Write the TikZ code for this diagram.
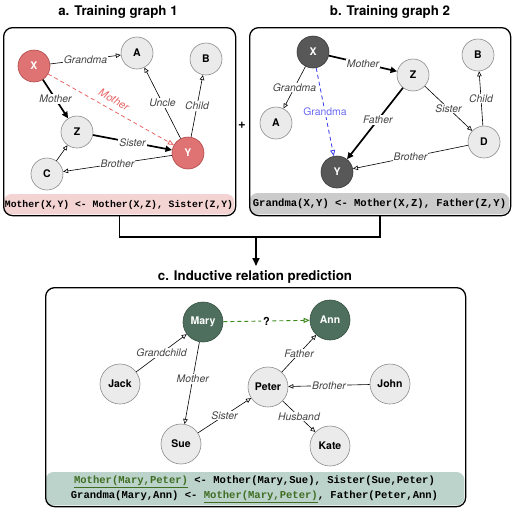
\documentclass[tikz,border=0pt]{standalone}
\usepackage{fontspec}
\setmainfont{TeX Gyre Heros}
\newfontfamily\rulemono{Liberation Mono}
\usetikzlibrary{arrows.meta}
\definecolor{nfill}{HTML}{EBEBEB}
\definecolor{ncirc}{HTML}{8C8C8C}
\definecolor{rfill}{HTML}{DF7272}
\definecolor{rdraw}{HTML}{B04A4A}
\definecolor{dfill}{HTML}{585858}
\definecolor{ddraw}{HTML}{3A3A3A}
\definecolor{gfill}{HTML}{4F6F5E}
\definecolor{gdraw}{HTML}{34503F}
\definecolor{pinkbar}{HTML}{F4D3D3}
\definecolor{graybar}{HTML}{CBCBCB}
\definecolor{greenbar}{HTML}{BCD3CB}
\definecolor{redline}{HTML}{E86565}
\definecolor{blueline}{HTML}{3B3BEE}
\definecolor{bluelab}{HTML}{6A6AF5}
\definecolor{greenline}{HTML}{3A8A1A}
\definecolor{ug}{HTML}{3F6E22}
\definecolor{labgray}{HTML}{444444}
\begin{document}
\begin{tikzpicture}[x=1pt,y=-1pt,
  lnode/.style={circle,draw=ncirc,fill=nfill,line width=0.6pt,minimum size=32pt,inner sep=0pt,font=\bfseries\fontsize{10.5}{12}\selectfont},
  rnode/.style={lnode,draw=rdraw,fill=rfill,text=white},
  dnode/.style={lnode,draw=ddraw,fill=dfill,text=white},
  cnode/.style={lnode,minimum size=40pt},
  gnode/.style={cnode,draw=gdraw,fill=gfill,text=white},
  elab/.style={fill=white,inner sep=1pt,text=labgray,font=\itshape\fontsize{10.4}{12}\selectfont},
  thin/.style={line width=0.6pt,-{Triangle[open,length=5pt,width=4.5pt]}},
  thick/.style={line width=1.7pt,-{Triangle[length=6.5pt,width=6pt]}},
  panel/.style={draw,line width=1.3pt,rounded corners=9pt,inner sep=0pt,anchor=north west},
  ttl/.style={font=\bfseries\fontsize{13.3}{16}\selectfont},
  rulea/.style={font=\rulemono\bfseries\fontsize{9.75}{14}\selectfont,align=center},
  ruleb/.style={font=\rulemono\bfseries\fontsize{10.55}{15}\selectfont,align=center},
]
\useasboundingbox (0,0) rectangle (512,509);

% titles
\node[ttl] (ta) at (118,12) {a. Training graph 1};
\node[ttl] (tb) at (390,12) {b. Training graph 2};
\node[ttl] (tc) at (255,277) {c. Inductive relation prediction};

% bars
\fill[pinkbar, rounded corners=8pt] (3.6,194) rectangle (234.4,214.4);
\fill[graybar, rounded corners=8pt] (249.6,193) rectangle (509.4,214.4);
\fill[greenbar, rounded corners=8pt] (45.6,472) rectangle (464.4,505.4);

% panels
\node[panel, minimum width=232pt, minimum height=188pt] (pa) at (3,27) {};
\node[panel, minimum width=261pt, minimum height=188pt] (pb) at (249,27) {};
\node[panel, minimum width=420pt, minimum height=219pt] (pc) at (45,287) {};

% rules
\node[rulea] (ra) at (119,204.5) {Mother(X,Y) <- Mother(X,Z), Sister(Z,Y)};
\node[ruleb] (rb) at (379.5,204) {Grandma(X,Y) <- Mother(X,Z), Father(Z,Y)};
\node[ruleb] (rc) at (254.5,489.5) {\textcolor{ug}{\underline{Mother(Mary,Peter)}} <- Mother(Mary,Sue), Sister(Sue,Peter)\\Grandma(Mary,Ann) <- \textcolor{ug}{\underline{Mother(Mary,Peter)}}, Father(Peter,Ann)};

% plus
\node[font=\bfseries\fontsize{13}{15}\selectfont] (plus) at (242,125) {+};

% connector
\coordinate (jn) at (256,237);
\coordinate (tip) at (256,266);
\draw[line width=1.6pt] (pa.south) -- (pa.south |- jn) -- (pb.south |- jn) -- (pb.south);
\draw[line width=1.6pt,-{Triangle[length=8pt,width=7pt]}] (jn) -- (tip);

% graph a
\node[rnode] (aX) at (34,66) {X};
\node[lnode] (aA) at (137,53) {A};
\node[lnode] (aB) at (206,59) {B};
\node[lnode] (aZ) at (77,132) {Z};
\node[rnode] (aY) at (188,153) {Y};
\node[lnode] (aC) at (47,174) {C};
\draw[thin] (aX) -- node[elab]{Grandma} (aA);
\draw[thick] (aX) -- node[elab]{Mother} (aZ);
\draw[redline, line width=0.8pt, dash pattern=on 4pt off 3pt, -{Triangle[open,length=6pt,width=5pt]}] (aX) -- (aY);
\node[rotate=-29.5, text=redline, inner sep=1pt, font=\itshape\fontsize{10.6}{12}\selectfont] (redlab) at (114,99.5) {Mother};
\draw[thin] (aY) -- node[elab]{Uncle} (aA);
\draw[thin] (aY) -- node[elab]{Child} (aB);
\draw[thick] (aZ) -- node[elab]{Sister} (aY);
\draw[thin] (aY) -- node[elab]{Brother} (aC);
\draw[thin] (aC) -- (aZ);

% graph b
\node[dnode] (bX) at (313,52) {X};
\node[lnode] (bZ) at (413,75) {Z};
\node[lnode] (bB) at (478,55) {B};
\node[lnode] (bA) at (276,123) {A};
\node[lnode] (bD) at (484,142) {D};
\node[dnode] (bY) at (337,172) {Y};
\draw[thick] (bX) -- node[elab]{Mother} (bZ);
\draw[thin] (bX) -- node[elab]{Grandma} (bA);
\draw[blueline, line width=0.8pt, dash pattern=on 4pt off 3pt, -{Triangle[open,length=6pt,width=5pt]}] (bX) -- node[fill=white,inner sep=1pt,text=bluelab,font=\fontsize{10.4}{12}\selectfont]{Grandma} (bY);
\draw[thick] (bZ) -- node[elab, pos=0.45]{Father} (bY);
\draw[thin] (bZ) -- node[elab]{Sister} (bD);
\draw[thin] (bD) -- node[elab]{Child} (bB);
\draw[thin] (bD) -- node[elab]{Brother} (bY);

% graph c
\node[gnode] (mary) at (203,322) {Mary};
\node[gnode] (ann) at (330,320) {Ann};
\node[cnode] (jack) at (120,384) {Jack};
\node[cnode] (peter) at (268,387) {Peter};
\node[cnode] (john) at (390,384) {John};
\node[cnode] (sue) at (181,444) {Sue};
\node[cnode] (kate) at (330,446) {Kate};
\draw[greenline, line width=0.9pt, dash pattern=on 4pt off 3pt, -{Triangle[open,length=6pt,width=5pt]}] (mary) -- node[fill=white,inner sep=2pt,text=black,font=\bfseries\fontsize{11}{12}\selectfont]{?} (ann);
\draw[thin] (jack) -- node[elab]{Grandchild} (mary);
\draw[thin] (mary) -- node[elab, pos=0.45]{Mother} (sue);
\draw[thin] (sue) -- node[elab]{Sister} (peter);
\draw[thin] (peter) -- node[elab]{Father} (ann);
\draw[thin] (john) -- node[elab]{Brother} (peter);
\draw[thin] (peter) -- node[elab]{Husband} (kate);
\end{tikzpicture}
\end{document}
